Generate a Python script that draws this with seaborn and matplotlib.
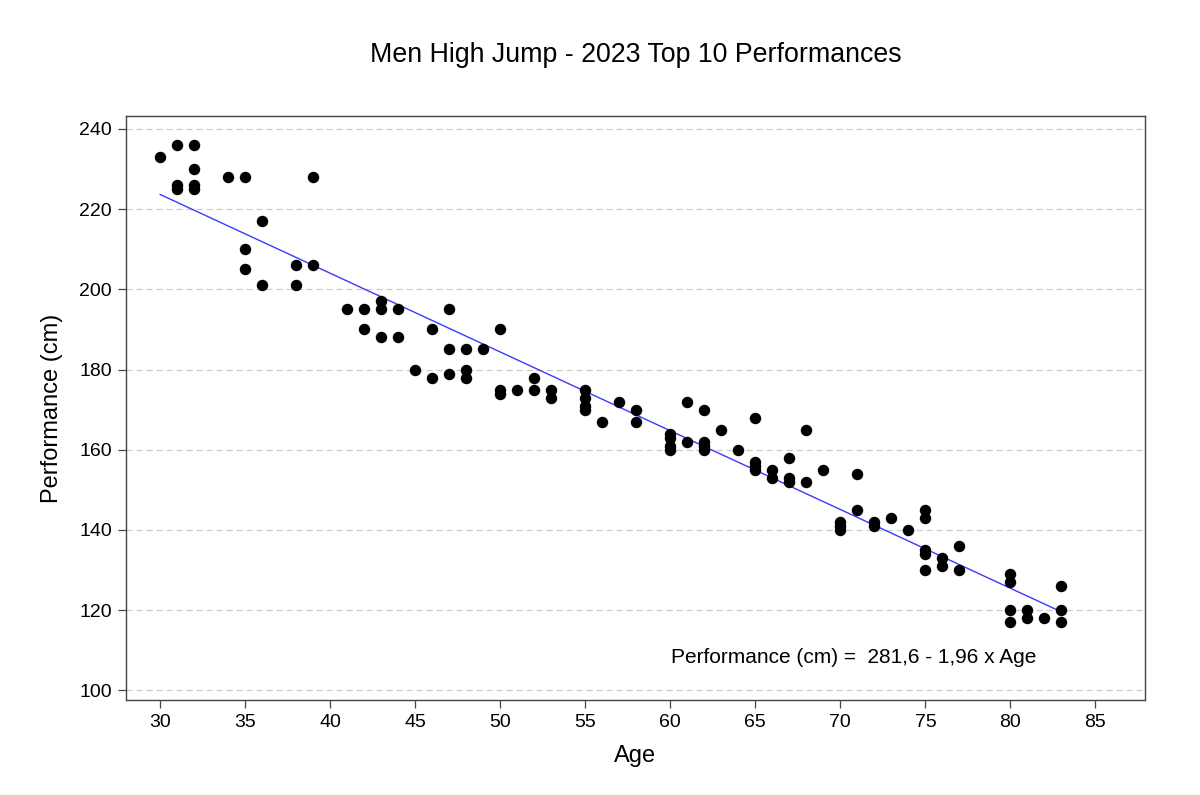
import numpy as np
import pandas as pd
import matplotlib
matplotlib.use("Agg")
import matplotlib.pyplot as plt
import seaborn as sns

# ages and best marks (cm)
ages = [30,
        31, 31, 31,
        32, 32, 32, 32,
        34,
        35, 35, 35,
        36, 36,
        38, 38,
        39, 39,
        41,
        42, 42,
        43, 43, 43,
        44, 44,
        45,
        46, 46,
        47, 47, 47,
        48, 48, 48,
        49,
        50, 50, 50,
        51,
        52, 52,
        53, 53,
        55, 55, 55, 55,
        56,
        57,
        58, 58,
        60, 60, 60, 60,
        61, 61,
        62, 62, 62, 62,
        63,
        64,
        65, 65, 65, 65,
        66, 66,
        67, 67, 67,
        68, 68,
        69,
        70, 70, 70,
        71, 71,
        72, 72,
        73,
        74,
        75, 75, 75, 75, 75,
        76, 76,
        77, 77,
        80, 80, 80, 80,
        81, 81,
        82,
        83, 83, 83]
marks = [233,
         236, 226, 225,
         236, 230, 226, 225,
         228,
         228, 210, 205,
         217, 201,
         206, 201,
         228, 206,
         195,
         195, 190,
         197, 195, 188,
         195, 188,
         180,
         190, 178,
         195, 185, 179,
         185, 180, 178,
         185,
         190, 175, 174,
         175,
         178, 175,
         175, 173,
         175, 173, 171, 170,
         167,
         172,
         170, 167,
         164, 163, 161, 160,
         172, 162,
         170, 162, 161, 160,
         165,
         160,
         168, 157, 156, 155,
         155, 153,
         158, 153, 152,
         165, 152,
         155,
         142, 141, 140,
         154, 145,
         142, 141,
         143,
         140,
         145, 143, 135, 134, 130,
         133, 131,
         136, 130,
         129, 127, 120, 117,
         120, 118,
         118,
         126, 120, 117]

df = pd.DataFrame({"Age": ages, "Performance (cm)": marks})

sns.set_style("white")
plt.rcParams["font.family"] = ["Liberation Sans", "DejaVu Sans"]
plt.rcParams["text.color"] = "black"
plt.rcParams["axes.labelcolor"] = "black"
plt.rcParams["xtick.color"] = "black"
plt.rcParams["ytick.color"] = "black"

fig = plt.figure(figsize=(12, 7.95), dpi=100)
ax = fig.add_axes([0.105, 0.1195, 0.849, 0.7345])

for y in range(100, 241, 20):
    ax.axhline(y, color="#cccccc", lw=0.9, ls=(0, (5, 3)), zorder=0)

sns.regplot(data=df, x="Age", y="Performance (cm)", ax=ax, scatter=False, ci=None,
            line_kws={"color": "#3a3aff", "lw": 1.0, "zorder": 2})
sns.scatterplot(data=df, x="Age", y="Performance (cm)", ax=ax, color="black",
                s=68, edgecolor="black", linewidth=0, zorder=3)

ax.set_xlim(28, 87.9)
ax.set_ylim(97.6, 243.2)
ax.set_xticks(range(30, 86, 5))
ax.set_yticks(range(100, 241, 20))
ax.tick_params(axis="both", direction="out", length=6, width=0.9,
               labelsize=14, bottom=True, left=True, pad=4)
ax.tick_params(colors="#444444", labelcolor="black")
for s in ax.spines.values():
    s.set_color("#444444")
    s.set_linewidth(1.0)

ax.set_xlabel("Age", fontsize=17, labelpad=10)
ax.set_ylabel("Performance (cm)", fontsize=17, labelpad=12)
fig.text(0.5296, 0.931, "Men High Jump - 2023 Top 10 Performances", fontsize=19.3,
         ha="center", va="center")

ax.text(70.8, 108.1, "Performance (cm) =  281,6 - 1,96 x Age", ha="center", va="center",
        fontsize=15)

fig.savefig("out.png", dpi=100)
